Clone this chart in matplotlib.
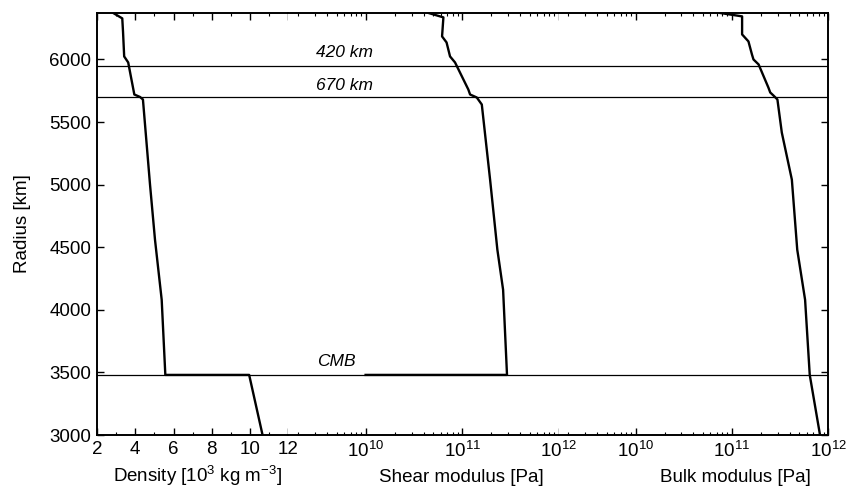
import numpy as np
import matplotlib.pyplot as plt
from matplotlib.ticker import MultipleLocator
from matplotlib.transforms import blended_transform_factory

plt.rcParams['font.family'] = ['Liberation Sans', 'DejaVu Sans']
plt.rcParams['mathtext.fontset'] = 'custom'
plt.rcParams['mathtext.rm'] = 'Liberation Sans'
plt.rcParams['mathtext.it'] = 'Liberation Sans:italic'

# radius [km] and density [10^3 kg m^-3]
dens_r = [6371, 6328, 6220, 6024, 5976, 5720, 5700, 5680, 5000, 4560, 4080, 3480, 3480, 3000]
dens_v = [2.85, 3.32, 3.36, 3.42, 3.63, 3.95, 4.25, 4.40, 4.77, 5.03, 5.38, 5.57, 9.95, 10.65]

# radius [km] and shear modulus [Pa]
shear_r = [6371, 6336, 6184, 6136, 6024, 5976, 5760, 5720, 5696, 5640, 5040, 4480, 4160, 3480, 3480]
shear_v = [4.5e10, 6.4e10, 6.2e10, 6.9e10, 7.5e10, 8.45e10, 1.16e11, 1.21e11, 1.42e11,
           1.60e11, 1.95e11, 2.32e11, 2.66e11, 2.92e11, 1.0e10]

# radius [km] and bulk modulus [Pa]
bulk_r = [6371, 6344, 6200, 6144, 6040, 6000, 5960, 5776, 5736, 5712, 5680, 5416, 5040,
          4480, 4080, 3480, 3000]
bulk_v = [7.6e10, 1.28e11, 1.28e11, 1.49e11, 1.62e11, 1.68e11, 1.90e11, 2.40e11, 2.51e11,
          2.71e11, 2.98e11, 3.31e11, 4.21e11, 4.79e11, 5.78e11, 6.46e11, 8.26e11]

boundaries = [5951, 5701, 3480]
boundary_labels = ['420 km', '670 km', 'CMB']
label_r = [6056, 5792, 3584]

fs = 13.5
fig = plt.figure(figsize=(8.51, 4.90), dpi=100)
left, right = 97 / 851, 828 / 851
bottom, top = 1 - 435 / 490, 1 - 13 / 490
widths = np.array([191.4, 270.2, 269.4])
widths = widths / widths.sum() * (right - left)
xs = left + np.concatenate([[0], np.cumsum(widths)[:-1]])

axes = [fig.add_axes([x0, bottom, w, top - bottom]) for x0, w in zip(xs, widths)]
ax1, ax2, ax3 = axes

ax1.plot(dens_v, dens_r, color='black', lw=1.7)
ax1.set_xlim(2, 12)
ax1.set_xticks([2, 4, 6, 8, 10, 12])
ax1.xaxis.set_minor_locator(MultipleLocator(1))

ax2.plot(shear_v, shear_r, color='black', lw=1.7)
ax2.set_xscale('log')
ax2.set_xlim(10**9.2, 1e12)

ax3.plot(bulk_v, bulk_r, color='black', lw=1.7)
ax3.set_xscale('log')
ax3.set_xlim(10**9.2, 1e12)

for ax in axes:
    ax.set_ylim(3000, 6371)
    for b in boundaries:
        ax.axhline(b, color='black', lw=0.9)
    ax.tick_params(which='both', direction='in', top=True, labelsize=fs, pad=4)
    ax.tick_params(which='major', length=5, width=1)
    ax.tick_params(which='minor', length=2.5, width=0.8)
    for s in ax.spines.values():
        s.set_linewidth(1.4)

ax1.spines['right'].set_visible(False)
ax2.spines['left'].set_visible(False)
ax2.spines['right'].set_visible(False)
ax3.spines['left'].set_visible(False)

ax1.set_yticks(np.arange(3000, 6001, 500))
ax1.set_ylabel('Radius [km]', fontsize=fs)
ax1.yaxis.set_label_coords(-0.39, 0.5)
ax1.yaxis.label.set_va('center')
ax2.tick_params(axis='y', which='both', left=False, labelleft=False)
ax3.tick_params(axis='y', which='both', left=False, labelleft=False, right=True)
ax3.set_yticks(np.arange(3000, 6001, 500))

ax1.set_xlabel('Density [10$^3$ kg m$^{-3}$]', fontsize=fs)
ax2.set_xlabel('Shear modulus [Pa]', fontsize=fs)
ax3.set_xlabel('Bulk modulus [Pa]', fontsize=fs)
for ax, xf in zip(axes, [0.528, 0.642, 0.658]):
    ax.xaxis.set_label_coords(xf, -0.112)
    ax.xaxis.label.set_va('baseline')

trans = blended_transform_factory(ax2.transAxes, ax2.transData)
for lab, r, xf in zip(boundary_labels, label_r, [0.206, 0.206, 0.176]):
    ax2.text(xf, r, lab, transform=trans, fontsize=12.5, style='italic',
             ha='center', va='center')

fig.savefig('out.png', dpi=100)
